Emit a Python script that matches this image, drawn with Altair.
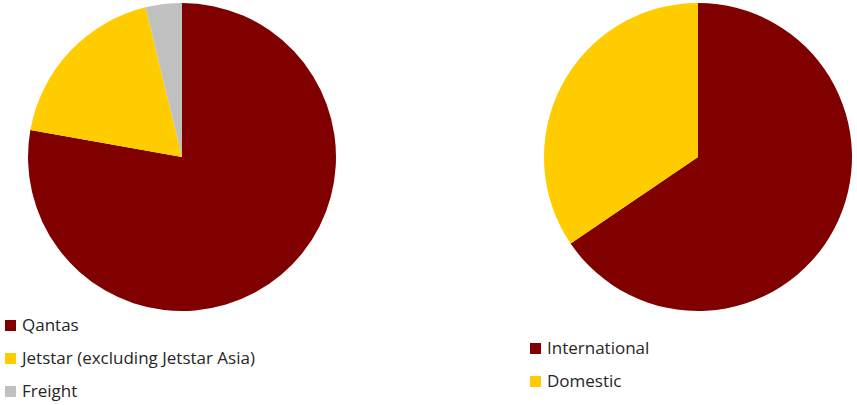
import altair as alt
import pandas as pd

seg_labels = ["Qantas", "Jetstar (excluding Jetstar Asia)", "Freight"]
seg_values = [77.8, 18.4, 3.8]
seg_colors = ["#800000", "#FFCC00", "#C0C0C0"]

route_labels = ["International", "Domestic"]
route_values = [65.5, 34.5]
route_colors = ["#800000", "#FFCC00"]

left = pd.DataFrame({"label": seg_labels, "value": seg_values, "ord": range(len(seg_labels))})
right = pd.DataFrame({"label2": route_labels, "value": route_values, "ord": range(len(route_labels))})

FONT = "Open Sans"

def legend(x, y):
    return alt.Legend(
        title=None, orient="none", legendX=x, legendY=y,
        symbolType="square", symbolSize=121, symbolStrokeWidth=0,
        labelFontSize=17, labelFont=FONT, labelColor="#262626",
        rowPadding=15, labelOffset=3, labelLimit=400,
    )

pie1 = alt.Chart(left).mark_arc(radius=154, stroke=None).encode(
    theta=alt.Theta("value:Q", stack=True),
    order=alt.Order("ord:Q"),
    x=alt.value(182), y=alt.value(157),
    color=alt.Color("label:N", scale=alt.Scale(domain=seg_labels, range=seg_colors), legend=legend(2, 317)),
)

pie2 = alt.Chart(right).mark_arc(radius=154, stroke=None).encode(
    theta=alt.Theta("value:Q", stack=True),
    order=alt.Order("ord:Q"),
    x=alt.value(698), y=alt.value(157),
    color=alt.Color("label2:N", scale=alt.Scale(domain=route_labels, range=route_colors), legend=legend(527, 340)),
)

chart = alt.layer(pie1, pie2).resolve_scale(color="independent", theta="independent").properties(
    width=857, height=405, padding=0, autosize=alt.AutoSizeParams(type="none"),
).configure_view(stroke=None)

chart.save("out.html", embed_options={"renderer": "svg", "actions": False})
